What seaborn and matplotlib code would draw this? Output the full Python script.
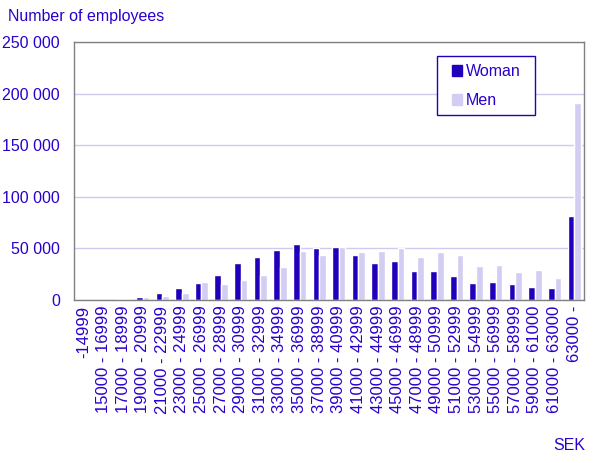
import pandas as pd
import matplotlib.pyplot as plt
from matplotlib.patches import Patch, Rectangle
from matplotlib.ticker import FuncFormatter
import seaborn as sns

bands = ['-14999', '15000 - 16999', '17000 - 18999', '19000 - 20999', '21000 - 22999',
         '23000 - 24999', '25000 - 26999', '27000 - 28999', '29000 - 30999', '31000 - 32999',
         '33000 - 34999', '35000 - 36999', '37000 - 38999', '39000 - 40999', '41000 - 42999',
         '43000 - 44999', '45000 - 46999', '47000 - 48999', '49000 - 50999', '51000 - 52999',
         '53000 - 54999', '55000 - 56999', '57000 - 58999', '59000 - 61000', '61000 - 63000',
         '63000 -']
woman = [100, 300, 1000, 2900, 6800, 11600, 16400, 24200, 35800, 41600, 48400, 54200, 50300,
         51300, 43500, 35800, 37700, 28000, 28000, 23200, 16400, 17400, 15500, 12600, 11600, 81200]
men = [100, 300, 1000, 2900, 3900, 6800, 17400, 15500, 19300, 24200, 31900, 47400, 43500,
       51300, 46400, 47400, 50000, 41600, 46400, 43500, 32900, 33900, 27100, 29000, 21300, 190500]

df = pd.DataFrame({'band': bands * 2,
                   'count': woman + men,
                   'sex': ['Woman'] * len(bands) + ['Men'] * len(bands)})

blue = '#2200bb'
lilac = '#d2cdf2'
txt = '#2a00cc'
W, H = 605, 463

sns.set_style('white')
plt.rcParams['font.family'] = ['Liberation Sans', 'DejaVu Sans']

fig = plt.figure(figsize=(6.05, 4.63), dpi=100)
ax = fig.add_axes([0.1223, 0.352, 0.843, 0.5573])

sns.barplot(data=df, x='band', y='count', hue='sex', palette=[blue, lilac],
            width=0.68, gap=0, saturation=1, legend=False, ax=ax)

ax.set_ylim(0, 250000)
ax.set_xlim(-0.5, len(bands) - 0.5)
ax.set_yticks(range(0, 250001, 50000))
ax.yaxis.set_major_formatter(FuncFormatter(lambda v, p: f'{int(v):,}'.replace(',', ' ')))
ax.grid(axis='y', color='#d0c9f0', linewidth=1)
ax.set_axisbelow(True)
ax.set_xlabel('')
ax.set_ylabel('')

for s in ax.spines.values():
    s.set_color('#808080')
    s.set_linewidth(1)
ax.tick_params(axis='both', which='major', direction='out', length=4, width=1,
               color='#808080', labelcolor=txt, labelsize=11.5)
ax.tick_params(axis='y', pad=6)
ax.tick_params(axis='x', pad=4)
ax.set_xticks(range(len(bands)))
ax.set_xticklabels(bands, rotation=90, ha='center', va='top', fontsize=12)
# tick marks sit between categories in the original
ax.set_xticks([i - 0.5 for i in range(len(bands) + 1)], minor=True)
ax.tick_params(axis='x', which='major', length=0)
ax.tick_params(axis='x', which='minor', direction='out', length=5, width=1, color='#808080')

# legend frame drawn separately so its padding matches the original
fig.patches.append(Rectangle((437 / W, 1 - 115 / H), 98 / W, 59 / H, transform=fig.transFigure,
                             facecolor='white', edgecolor=blue, linewidth=1, zorder=5))
handles = [Patch(facecolor=blue, edgecolor=blue), Patch(facecolor=lilac, edgecolor=lilac)]
leg = fig.legend(handles, ['Woman', 'Men'], loc='upper left',
                 bbox_to_anchor=(452 / W, 1 - 64 / H), bbox_transform=fig.transFigure,
                 fontsize=11.5, frameon=False, handlelength=0.65, handleheight=0.65,
                 handletextpad=0.2, labelspacing=0.9, borderpad=0, borderaxespad=0)
leg.set_zorder(6)
for t in leg.get_texts():
    t.set_color(txt)

fig.text(8 / W, 1 - 17 / H, 'Number of employees', color=txt, fontsize=11.5, va='center')
fig.text(553 / W, 1 - 445 / H, 'SEK', color=txt, fontsize=11.5, va='center')

fig.savefig('out.png', dpi=100)
